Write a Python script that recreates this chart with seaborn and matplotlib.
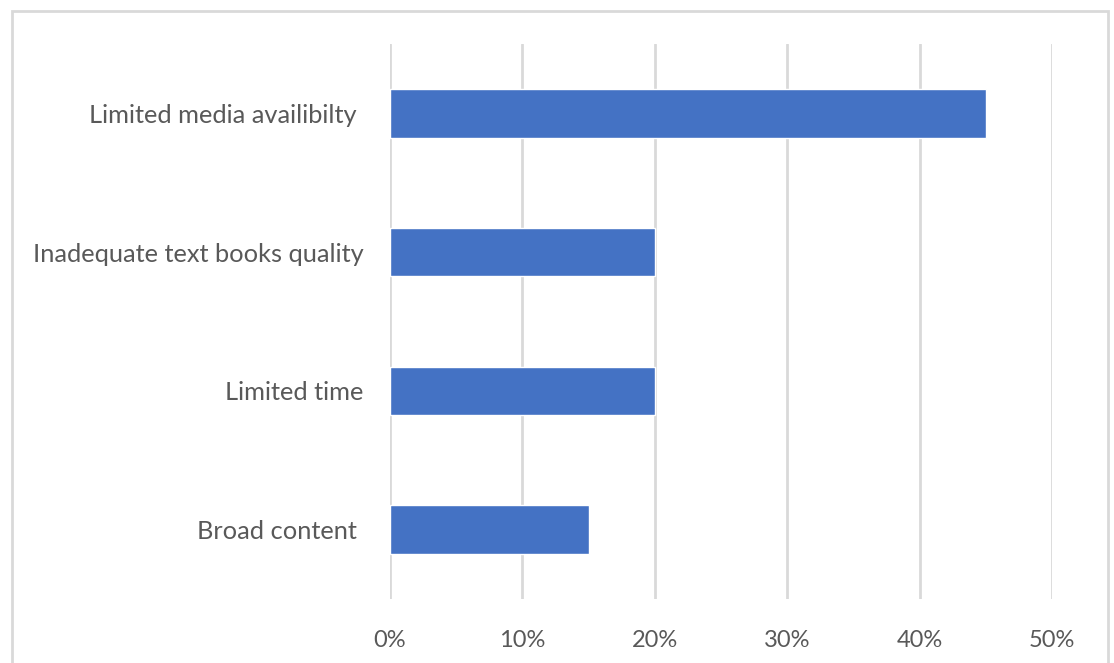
import matplotlib
matplotlib.use("Agg")
import matplotlib.pyplot as plt
import seaborn as sns
import pandas as pd
from matplotlib.patches import Rectangle
from matplotlib.ticker import FuncFormatter

categories = ["Limited media availibilty ", "Inadequate text books quality", "Limited time", "Broad content "]
values = [45, 20, 20, 15]
xticks = [0, 10, 20, 30, 40, 50]

sns.set_theme(style="white")
plt.rcParams['font.family'] = ['Lato', 'DejaVu Sans']

df = pd.DataFrame({"cat": categories, "val": values})

fig = plt.figure(figsize=(11.14, 6.63), dpi=100)
ax = fig.add_axes([390/1114, 1-599/663, (1052-390)/1114, (599-44)/663])
sns.barplot(data=df, x="val", y="cat", orient="h", color="#4472C4", saturation=1,
            width=0.35, ax=ax, zorder=3)
ax.set_xlim(0, 50)
ax.set_ylim(3.5, -0.5)
ax.set_xticks(xticks)
ax.xaxis.set_major_formatter(FuncFormatter(lambda v, p: f"{int(v)}%"))
ax.grid(axis="x", color="#D9D9D9", linewidth=2, zorder=0)
ax.set_axisbelow(True)
for s in ax.spines.values():
    s.set_visible(False)
ax.set_xlabel("")
ax.set_ylabel("")
ax.tick_params(axis="both", length=0, colors="#595959")
ax.tick_params(axis="x", pad=22, labelsize=17)
ax.tick_params(axis="y", pad=19, labelsize=18.3)

fig.patches.append(Rectangle((11.5/1114, -0.1), (1108-11.5)/1114, 1.1 - 11.5/663,
                             transform=fig.transFigure, fill=False,
                             edgecolor="#D9D9D9", linewidth=2))

fig.savefig("out.png", dpi=100)
